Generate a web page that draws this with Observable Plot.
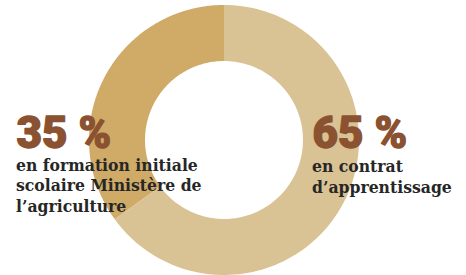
<!DOCTYPE html>
<html>
<head>
<meta charset="utf-8">
<script src="https://cdn.jsdelivr.net/npm/d3@7"></script>
<script src="https://cdn.jsdelivr.net/npm/@observablehq/plot@0.6"></script>
<style>
  html, body { margin: 0; padding: 0; background: #fff; }
  #chart svg { display: block; }
</style>
</head>
<body>
<div id="chart"></div>
<script>
// Data
const categories = ["en formation initiale scolaire Ministère de l’agriculture", "en contrat d’apprentissage"];
const values = [35, 65];
const percentLabels = ["35 %", "65 %"];
const descLabels = ["en formation initiale\nscolaire Ministère de\nl’agriculture", "en contrat\nd’apprentissage"];
const colors = ["#cfab67", "#d9c293"];

// Build annular sector polygons: slice 0 runs counter-clockwise from 12 o'clock, slice 1 fills the rest
const total = d3.sum(values);
const inner = 0.585;
const pts = [];
const spans = [[-values[0] / total, 0], [0, values[1] / total]];
spans.forEach(([a0, a1], i) => {
  const n = 120;
  const ring = [];
  for (let k = 0; k <= n; k++) {
    const t = (a0 + (a1 - a0) * k / n) * 2 * Math.PI;
    ring.push({x: Math.sin(t), y: Math.cos(t)});
  }
  for (let k = n; k >= 0; k--) {
    const t = (a0 + (a1 - a0) * k / n) * 2 * Math.PI;
    ring.push({x: inner * Math.sin(t), y: inner * Math.cos(t)});
  }
  ring.forEach(p => pts.push({...p, slice: categories[i]}));
});

const slab = "'DejaVu Serif Condensed', 'DejaVu Serif', serif";
const heavy = "Roboto, 'Open Sans', sans-serif";
const numStyle = {frameAnchor: "top-left", dy: 142.5, text: d => d, textAnchor: "start", lineAnchor: "bottom", fontSize: 44, fontWeight: 900, fill: "#8a5230", stroke: "#8a5230", strokeWidth: 1.3, fontFamily: heavy};
const descStyle = {frameAnchor: "top-left", text: d => d, textAnchor: "start", lineAnchor: "bottom", fontSize: 17.4, lineHeight: 1.18, fontWeight: "bold", fill: "#262626", fontFamily: slab};

const chart = Plot.plot({
  width: 466,
  height: 275,
  marginLeft: 88.5,
  marginRight: 107.5,
  marginTop: 4.5,
  marginBottom: 0.5,
  x: {domain: [-1, 1], axis: null},
  y: {domain: [-1, 1], axis: null},
  color: {domain: categories, range: colors},
  style: {overflow: "visible"},
  marks: [
    Plot.line(pts, {x: "x", y: "y", z: "slice", fill: "slice", stroke: "none", curve: "linear-closed"}),
    Plot.text([percentLabels[0]], {...numStyle, dx: -72.5}),
    Plot.text([descLabels[0]], {...descStyle, dx: -73, dy: 207}),
    Plot.text([percentLabels[1]], {...numStyle, dx: 223.5}),
    Plot.text([descLabels[1]], {...descStyle, dx: 223, dy: 187.8})
  ]
});
document.getElementById("chart").appendChild(chart);
</script>
</body>
</html>
